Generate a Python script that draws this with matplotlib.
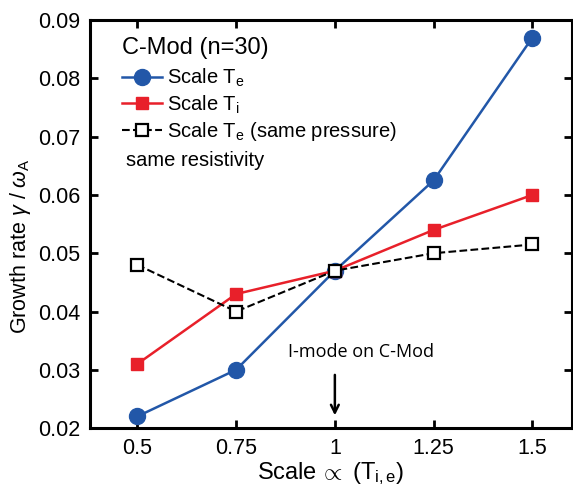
import matplotlib
matplotlib.use("Agg")
import matplotlib.pyplot as plt
from matplotlib.lines import Line2D

plt.rcParams["font.family"] = ["Liberation Sans", "DejaVu Sans"]
plt.rcParams["mathtext.fontset"] = "custom"
plt.rcParams["mathtext.rm"] = "Liberation Sans"
plt.rcParams["mathtext.it"] = "Liberation Sans:italic"

# growth rate vs. profile scale factor
scale = [0.5, 0.75, 1.0, 1.25, 1.5]
gamma_te = [0.022, 0.030, 0.047, 0.0625, 0.087]
gamma_ti = [0.031, 0.043, 0.047, 0.054, 0.060]
gamma_te_same_p = [0.048, 0.040, 0.047, 0.050, 0.0515]
xtick_labels = ["0.5", "0.75", "1", "1.25", "1.5"]

blue = "#2257a8"
red = "#e8202a"

fig = plt.figure(figsize=(5.73, 4.92), dpi=100)
ax = fig.add_axes([0.157, 0.130, 0.841, 0.829])

ax.plot(scale, gamma_te, "-o", color=blue, lw=1.8, ms=11.5, zorder=3)
ax.plot(scale, gamma_ti, "-s", color=red, lw=1.8, ms=9, zorder=3)
ax.plot(scale, gamma_te_same_p, "--s", color="black", lw=1.5, ms=9,
        mfc="white", mec="black", mew=1.6, zorder=4)

ax.set_xlim(0.38, 1.6)
ax.set_ylim(0.02, 0.09)
ax.set_xticks(scale)
ax.set_xticklabels(xtick_labels)
ax.set_yticks([0.02, 0.03, 0.04, 0.05, 0.06, 0.07, 0.08, 0.09])
ax.tick_params(direction="in", length=6, width=2, labelsize=15.5,
               top=True, right=True, pad=7)
for sp in ax.spines.values():
    sp.set_linewidth(2.2)

ax.set_xlabel(r"Scale$\,\propto$ (T$_{\rm i,e}$)", fontsize=17, labelpad=1)
ax.set_ylabel(r"Growth rate $\gamma$ / $\omega_{\rm A}$", fontsize=15.5)
ax.yaxis.set_label_coords(-0.118, 0.445)

# legend block: title, three series, extra note
ax.text(0.066, 0.931, "C-Mod (n=30)", fontsize=17, va="center",
        transform=ax.transAxes)

handles = [
    Line2D([], [], color=blue, marker="o", lw=1.8, ms=11.5),
    Line2D([], [], color=red, marker="s", lw=1.8, ms=9),
    Line2D([], [], color="black", marker="s", ls="--", lw=1.5, ms=9,
           mfc="white", mew=1.6),
]
labels = [r"Scale T$_{\rm e}$", r"Scale T$_{\rm i}$",
          r"Scale T$_{\rm e}$ (same pressure)"]
ax.legend(handles, labels, loc="upper left", frameon=False, fontsize=14.5,
          handlelength=2.0, handletextpad=0.25, labelspacing=0.2,
          borderpad=0, borderaxespad=0, bbox_to_anchor=(0.066, 0.885))

ax.text(0.075, 0.657, "same resistivity", fontsize=14.5, va="center",
        transform=ax.transAxes)

ax.annotate("", xy=(1.0, 0.0217), xytext=(1.0, 0.0296),
            arrowprops=dict(arrowstyle="->", color="black", lw=1.8,
                            mutation_scale=14))
ax.text(0.562, 0.186, "I-mode on C-Mod", fontsize=13, ha="center",
        va="center", transform=ax.transAxes,
        family=["Open Sans", "DejaVu Sans"])

fig.savefig("out.png", dpi=100)
